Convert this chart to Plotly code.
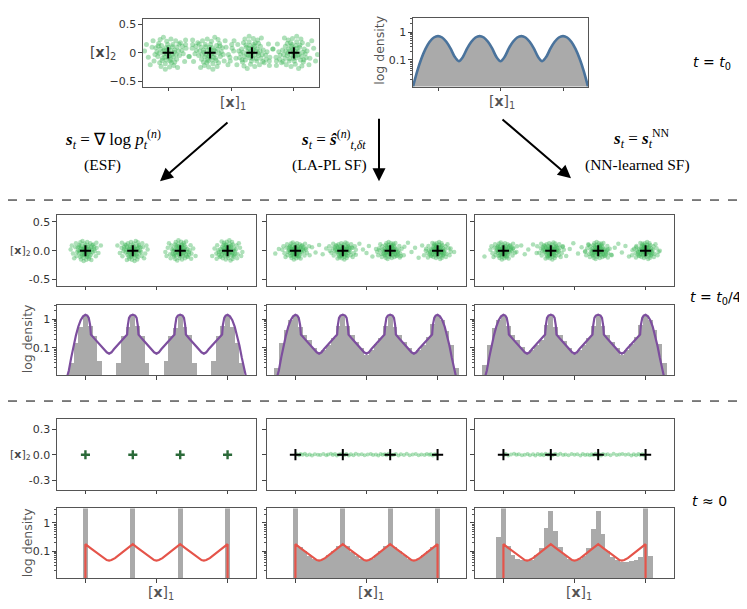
import plotly.graph_objects as go

# page body adds an 8px margin, so the figure is made 8px smaller and every
# reference pixel position is shifted by that offset.
OFF = 8
W, H = 747 - OFF, 609 - OFF
N = None

# ---------------- data ----------------
CENTERS_X = [-3.0, -1.0, 1.0, 3.0]
CENTERS_Y = [0.0, 0.0, 0.0, 0.0]
X_TICKS = [-3, 0, 3]
X_RANGE = [-4.2, 4.2]

# hand-read cloud shape (unit offsets) reused by every cluster
BLOB_DX = [0.12, -0.8, 1.1, -0.3, 0.5, -1.4, 0.9, -0.1, 0.3, -0.6,
           1.6, -1.0, 0.2, -0.4, 0.7, -1.7, 1.3, -0.2, 0.05, -0.9,
           0.6, -1.2, 1.9, -0.5, 0.4, -2.1, 1.0, -0.7, 0.0, 1.5,
           -1.5, 0.8, -0.3, 2.2, -0.05, -1.1, 0.25, 0.55, -0.45, -2.5,
           1.2, -0.85, 0.35, -1.3, 0.95, -0.15, 1.75, -0.65, 0.1, -1.9,
           2.6, -0.25, 0.65, -0.95, 0.45, -0.35, 1.45, -1.6, 0.15, 0.85,
           -0.55, 0.3, -1.05, 1.15, -0.2, 0.7, -2.3, 0.0, 1.85, -0.75]
BLOB_DY = [-0.35, 0.4, 0.2, -1.2, 0.9, -0.2, -0.7, 0.05, 1.5, -0.6,
           -0.1, 1.0, -0.9, 0.3, 0.3, 0.6, 1.1, -0.1, 0.6, -1.1,
           -1.4, 0.1, 0.5, 1.7, -0.2, -0.5, -1.6, 0.8, -0.5, 0.7,
           -0.9, 1.3, -1.8, -0.4, 0.9, -0.4, 0.25, -0.45, -0.15, 0.2,
           -0.3, 1.45, -1.1, 0.55, 0.6, 1.25, -0.95, -0.85, -0.05, -1.3,
           0.9, 0.55, 0.05, -0.05, 0.65, -0.5, 0.25, 1.3, -1.55, -0.2,
           0.2, -0.7, 0.75, 0.95, -0.8, -1.0, 0.9, 0.35, 1.4, -1.5]
MIRROR_X = [1, -1, 1, -1]
MIRROR_Y = [1, 1, -1, -1]

SPREAD_TOP = (0.45, 0.16)
SPREAD_MID_ESF = (0.25, 0.10)
SPREAD_MID_LAPL = (0.22, 0.085)
SPREAD_MID_NN = (0.22, 0.085)

LAPL_MID_BRIDGE_X = [-3.85, -3.7, -2.55, -2.4, -2.3, -2.15, -2.0, -1.85, -1.7, -1.55,
                     -0.6, -0.45, -0.3, -0.15, 0.0, 0.1, 0.25, 0.4, 0.55,
                     1.45, 1.6, 1.75, 1.9, 2.05, 2.2, 2.35, 2.5, 3.55, 3.7]
LAPL_MID_BRIDGE_Y = [-0.05, 0.03, 0.02, -0.08, 0.06, -0.03, 0.1, -0.06, 0.04, 0.0,
                     0.05, -0.07, 0.12, 0.02, -0.04, 0.08, -0.1, 0.03, 0.01,
                     -0.09, 0.07, 0.14, -0.02, 0.05, -0.12, 0.09, 0.0, 0.04, -0.02]
NN_MID_BRIDGE_X = [-3.8, -2.6, -2.45, -2.25, -2.1, -1.95, -1.75, -1.6,
                   -0.65, -0.5, -0.35, -0.2, -0.05, 0.15, 0.3, 0.45, 0.6,
                   1.4, 1.55, 1.7, 1.85, 2.0, 2.15, 2.3, 2.45, 2.6, 3.6]
NN_MID_BRIDGE_Y = [-0.1, 0.04, -0.02, 0.09, -0.06, 0.02, 0.11, -0.04,
                   0.0, 0.07, -0.09, 0.03, 0.13, -0.05, 0.06, -0.01, 0.1,
                   0.02, -0.07, 0.05, 0.12, -0.03, 0.08, -0.1, 0.01, 0.06, 0.0]

LAPL_BOT_X = [-2.95, -2.85, -2.78, -2.7, -2.6, -2.52, -2.4, -2.3, -2.18, -2.05,
              -1.95, -1.82, -1.7, -1.62, -1.5, -1.42, -1.33, -1.25, -1.15, -1.08,
              -0.92, -0.85, -0.75, -0.66, -0.55, -0.45, -0.33, -0.2, -0.08, 0.05,
              0.18, 0.28, 0.4, 0.5, 0.6, 0.68, 0.77, 0.85, 0.93, 1.07,
              1.15, 1.24, 1.35, 1.45, 1.58, 1.7, 1.82, 1.95, 2.08, 2.2,
              2.32, 2.45, 2.55, 2.65, 2.72, 2.8, 2.88, 2.95]
LAPL_BOT_Y = [0.004, -0.006, 0.008, -0.002, 0.01, -0.008, 0.003, -0.01, 0.006, 0.0,
              -0.004, 0.009, -0.007, 0.002, 0.011, -0.005, 0.007, -0.009, 0.001, 0.005,
              -0.003, 0.008, -0.011, 0.004, -0.006, 0.01, -0.001, 0.006, -0.008, 0.003,
              0.009, -0.004, 0.002, -0.01, 0.007, -0.002, 0.005, -0.007, 0.01, -0.005,
              0.0, 0.008, -0.009, 0.004, -0.003, 0.011, -0.006, 0.002, 0.007, -0.008,
              0.003, -0.004, 0.009, -0.001, 0.006, -0.01, 0.005, -0.002]
NN_BOT_X = [-2.97, -2.9, -2.8, -2.68, -2.55, -2.45, -2.35, -2.22, -2.1, -1.98,
            -1.88, -1.75, -1.65, -1.55, -1.45, -1.38, -1.3, -1.22, -1.12, -1.05,
            -0.95, -0.88, -0.8, -0.7, -0.6, -0.48, -0.38, -0.25, -0.12, 0.0,
            0.12, 0.25, 0.35, 0.45, 0.55, 0.65, 0.72, 0.8, 0.88, 0.96,
            1.05, 1.12, 1.2, 1.3, 1.4, 1.52, 1.65, 1.78, 1.9, 2.02,
            2.15, 2.28, 2.4, 2.5, 2.6, 2.7, 2.78, 2.86, 2.93]
NN_BOT_Y = [-0.005, 0.007, -0.009, 0.003, 0.01, -0.002, 0.006, -0.008, 0.0, 0.009,
            -0.006, 0.004, -0.01, 0.008, -0.003, 0.005, -0.007, 0.011, -0.001, 0.006,
            -0.009, 0.002, 0.008, -0.005, 0.01, -0.004, 0.003, -0.008, 0.007, -0.002,
            0.005, -0.01, 0.009, -0.003, 0.001, -0.007, 0.006, -0.004, 0.01, -0.006,
            0.002, -0.009, 0.008, -0.001, 0.004, -0.008, 0.011, -0.005, 0.003, 0.007,
            -0.002, 0.006, -0.009, 0.004, -0.006, 0.009, -0.003, 0.005, -0.007]

# densities
TOP_X = [-4.2, -4.0, -3.8, -3.6, -3.4, -3.2, -3.0, -2.8, -2.6, -2.4, -2.2, -2.0, -1.8, -1.6,
         -1.4, -1.2, -1.0, -0.8, -0.6, -0.4, -0.2, 0.0, 0.2, 0.4, 0.6, 0.8, 1.0, 1.2, 1.4,
         1.6, 1.8, 2.0, 2.2, 2.4, 2.6, 2.8, 3.0, 3.2, 3.4, 3.6, 3.8, 4.0, 4.2]
TOP_DENS = [0.011, 0.039, 0.11, 0.25, 0.45, 0.64, 0.72, 0.64, 0.45, 0.26, 0.13, 0.09,
            0.13, 0.26, 0.45, 0.64, 0.72, 0.64, 0.45, 0.26, 0.13, 0.09,
            0.13, 0.26, 0.45, 0.64, 0.72, 0.64, 0.45, 0.26, 0.13, 0.09,
            0.13, 0.26, 0.45, 0.64, 0.72, 0.64, 0.45, 0.25, 0.11, 0.039, 0.011]

PURPLE_X = [-3.8, -3.7, -3.6, -3.5, -3.4, -3.3, -3.2, -3.1, -3.0, -2.92, -2.86, -2.8, -2.77,
            -2.6, -2.4, -2.2, -2.1, -2.0, -1.9, -1.8, -1.6, -1.4, -1.24, -1.21, -1.16, -1.1,
            -1.0, -0.9, -0.84, -0.79, -0.76,
            -0.6, -0.4, -0.2, -0.1, 0.0, 0.1, 0.2, 0.4, 0.6, 0.76, 0.79, 0.84, 0.9, 1.0, 1.1,
            1.16, 1.21, 1.24,
            1.4, 1.6, 1.8, 1.9, 2.0, 2.1, 2.2, 2.4, 2.6, 2.77, 2.8, 2.86, 2.92, 3.0, 3.1, 3.2,
            3.3, 3.4, 3.5, 3.6, 3.7, 3.8]
PURPLE_Y = [0.008, 0.016, 0.045, 0.12, 0.27, 0.55, 0.92, 1.25, 1.42, 1.33, 1.1, 0.6, 0.29,
            0.2, 0.135, 0.088, 0.069, 0.062, 0.069, 0.088, 0.135, 0.2, 0.29, 0.6, 1.1, 1.33,
            1.42, 1.33, 1.1, 0.6, 0.29,
            0.2, 0.135, 0.088, 0.069, 0.062, 0.069, 0.088, 0.135, 0.2, 0.29, 0.6, 1.1, 1.33,
            1.42, 1.33, 1.1, 0.6, 0.29,
            0.2, 0.135, 0.088, 0.069, 0.062, 0.069, 0.088, 0.135, 0.2, 0.29, 0.6, 1.1, 1.33,
            1.42, 1.25, 0.92, 0.55, 0.27, 0.12, 0.045, 0.016, 0.008]

RED_X = [-3.0, -3.0, -2.8, -2.6, -2.4, -2.25, -2.1, -2.0, -1.9, -1.75, -1.6, -1.4, -1.2, -1.0,
         -0.8, -0.6, -0.4, -0.25, -0.1, 0.0, 0.1, 0.25, 0.4, 0.6, 0.8, 1.0,
         1.2, 1.4, 1.6, 1.75, 1.9, 2.0, 2.1, 2.25, 2.4, 2.6, 2.8, 3.0, 3.0]
RED_Y = [0.001, 0.175, 0.13, 0.096, 0.071, 0.056, 0.048, 0.046, 0.048, 0.056, 0.071, 0.096, 0.13, 0.175,
         0.13, 0.096, 0.071, 0.056, 0.048, 0.046, 0.048, 0.056, 0.071, 0.096, 0.13, 0.175,
         0.13, 0.096, 0.071, 0.056, 0.048, 0.046, 0.048, 0.056, 0.071, 0.096, 0.13, 0.175, 0.001]

BIN_CENTERS = [-4.0, -3.8, -3.6, -3.4, -3.2, -3.0, -2.8, -2.6, -2.4, -2.2,
               -2.0, -1.8, -1.6, -1.4, -1.2, -1.0, -0.8, -0.6, -0.4, -0.2,
               0.0, 0.2, 0.4, 0.6, 0.8, 1.0, 1.2, 1.4, 1.6, 1.8,
               2.0, 2.2, 2.4, 2.6, 2.8, 3.0, 3.2, 3.4, 3.6, 3.8, 4.0]
BIN_WIDTH = 0.2

MID_ESF_HIST = [N, N, 0.03, 0.15, 0.55, 1.3, 0.6, 0.27, 0.035, N,
                N, N, 0.03, 0.27, 0.55, 1.35, 0.6, 0.27, 0.03, N,
                N, N, 0.035, 0.27, 0.5, 1.35, 0.55, 0.28, 0.03, N,
                N, N, 0.035, 0.27, 0.6, 1.3, 0.55, 0.15, 0.03, N, N]
MID_LAPL_HIST = [N, 0.02, 0.15, 0.45, 1.0, 1.35, 0.55, 0.3, 0.19, 0.1,
                 0.065, 0.09, 0.13, 0.22, 0.6, 1.35, 0.6, 0.3, 0.17, 0.1,
                 0.06, 0.09, 0.14, 0.22, 0.6, 1.35, 0.55, 0.28, 0.17, 0.1,
                 0.065, 0.09, 0.13, 0.25, 0.7, 1.35, 1.0, 0.4, 0.13, 0.02, N]
MID_NN_HIST = [N, 0.025, 0.13, 0.5, 1.0, 1.35, 0.6, 0.3, 0.2, 0.11,
               0.07, 0.085, 0.13, 0.2, 0.65, 1.35, 0.55, 0.3, 0.18, 0.1,
               0.065, 0.085, 0.13, 0.22, 0.6, 1.35, 0.6, 0.3, 0.17, 0.1,
               0.06, 0.09, 0.14, 0.25, 0.65, 1.35, 0.95, 0.45, 0.14, 0.03, N]
BOT_ESF_HIST = [N, N, N, N, N, 20, N, N, N, N,
                N, N, N, N, N, 20, N, N, N, N,
                N, N, N, N, N, 20, N, N, N, N,
                N, N, N, N, N, 20, N, N, N, N, N]
BOT_LAPL_HIST = [N, N, N, N, N, 20, 0.13, 0.095, 0.065, 0.052,
                 0.047, 0.05, 0.07, 0.1, 0.14, 20, 0.14, 0.09, 0.065, 0.05,
                 0.043, 0.052, 0.072, 0.1, 0.15, 20, 0.13, 0.095, 0.07, 0.05,
                 0.045, 0.05, 0.07, 0.1, 0.13, 20, N, N, N, N, N]
BOT_NN_HIST = [N, N, N, N, 0.3, 20, 0.14, 0.07, 0.05, 0.045,
               0.042, 0.046, 0.07, 0.12, 0.65, 2.6, 0.5, 0.13, 0.07, 0.05,
               0.043, 0.05, 0.065, 0.12, 0.6, 2.6, 0.38, 0.1, 0.06, 0.045,
               0.038, 0.04, 0.042, 0.048, 0.058, 20, 0.062, N, N, N, N]

LOG_TICKS = [0.1, 1]
LOG_TICKTEXT = ['0.1', '1']
LOG_MINOR = [0.02, 0.03, 0.04, 0.05, 0.06, 0.07, 0.08, 0.09,
             0.2, 0.3, 0.4, 0.5, 0.6, 0.7, 0.8, 0.9, 2, 3]

# ---------------- styling / layout ----------------
GREEN = 'rgba(62,182,88,0.42)'
GRAY = '#aaaaaa'
PURPLE = '#7d4e9e'
RED = '#e5544a'
BLUE = '#4a739c'
TXT = '#333333'

fig = go.Figure()
layout = dict(width=W, height=H, margin=dict(l=0, r=0, t=0, b=0),
              paper_bgcolor='white', plot_bgcolor='white', showlegend=False)

AX = dict(showgrid=False, zeroline=False, showline=True, mirror=True,
          linecolor='#555555', linewidth=1.2, ticks='outside', ticklen=3.5,
          tickwidth=1, tickcolor='#444444',
          tickfont=dict(family='DejaVu Sans', size=11, color=TXT))


def fx(x):
    return (x - OFF) / W


def fy(y):
    return 1 - (y - OFF) / H


def names(n):
    s = '' if n == 1 else str(n)
    return 'xaxis' + s, 'yaxis' + s, 'x' + s, 'y' + s


def setup(n, box, yrange, ytype='linear', yticks=None, ytext=None, show_y=True, minor=False):
    l, t, r, b = box
    xa, ya, xr, yr = names(n)
    layout[xa] = dict(AX, domain=[fx(l), fx(r)], anchor=yr, range=X_RANGE,
                      tickmode='array', tickvals=X_TICKS, showticklabels=False)
    yd = dict(AX, domain=[fy(b), fy(t)], anchor=xr, type=ytype, range=yrange,
              tickmode='array', tickvals=yticks, ticktext=ytext, showticklabels=show_y)
    if minor:
        yd['minor'] = dict(tickmode='array', tickvals=LOG_MINOR, ticks='outside',
                           ticklen=2, tickwidth=0.8, tickcolor='#555555')
    layout[ya] = yd
    return xr, yr


def cloud(spread):
    xs, ys = [], []
    for k, (cx, cy) in enumerate(zip(CENTERS_X, CENTERS_Y)):
        for dx, dy in zip(BLOB_DX, BLOB_DY):
            xs.append(cx + spread[0] * dx * MIRROR_X[k])
            ys.append(cy + spread[1] * dy * MIRROR_Y[k])
    return xs, ys


def add_points(xr, yr, xs, ys, size):
    fig.add_trace(go.Scatter(x=xs, y=ys, xaxis=xr, yaxis=yr, mode='markers',
                             marker=dict(size=size, color=GREEN, line=dict(width=0)),
                             hoverinfo='skip'))


def add_crosses(xr, yr, color='black', size=8, width=2):
    fig.add_trace(go.Scatter(x=CENTERS_X, y=CENTERS_Y, xaxis=xr, yaxis=yr, mode='markers',
                             marker=dict(symbol='cross-thin', size=size,
                                         line=dict(width=width, color=color)),
                             hoverinfo='skip'))


def add_hist(xr, yr, vals):
    fig.add_trace(go.Bar(x=BIN_CENTERS, y=vals, width=BIN_WIDTH, xaxis=xr, yaxis=yr,
                         marker=dict(color=GRAY, line=dict(width=0)), hoverinfo='skip'))


def add_curve(xr, yr, xs, ys, color, width=2.2, shape='linear'):
    fig.add_trace(go.Scatter(x=xs, y=ys, xaxis=xr, yaxis=yr, mode='lines',
                             line=dict(color=color, width=width, shape=shape),
                             hoverinfo='skip'))


LOG_RANGE = [-1.96, 0.51]
COLS = [(57, 256), (267, 466), (475, 674)]
MID_SC = (215, 286)
MID_DN = (305, 376)
BOT_SC = (420, 491)
BOT_DN = (510, 580)

# --- top scatter ---
xr, yr = setup(1, (143, 18, 319, 86), [-0.59, 0.59], yticks=[0.5, 0, -0.5],
               ytext=['0.5', '0', '\u22120.5'])
tx, ty = cloud(SPREAD_TOP)
add_points(xr, yr, tx, ty, 5)
add_crosses(xr, yr)

# --- top density ---
xr, yr = setup(2, (413, 17, 588, 86), LOG_RANGE, 'log', LOG_TICKS, LOG_TICKTEXT, True, True)
fig.add_trace(go.Scatter(x=TOP_X, y=[1e-3 for _ in TOP_X], xaxis=xr, yaxis=yr, mode='lines',
                         line=dict(width=0, color=GRAY), hoverinfo='skip'))
fig.add_trace(go.Scatter(x=TOP_X, y=TOP_DENS, xaxis=xr, yaxis=yr, mode='lines',
                         fill='tonexty', fillcolor=GRAY,
                         line=dict(color=BLUE, width=2.6, shape='spline', smoothing=0.8),
                         hoverinfo='skip'))

# --- middle row ---
mid_clouds = [
    (cloud(SPREAD_MID_ESF), None, None),
    (cloud(SPREAD_MID_LAPL), LAPL_MID_BRIDGE_X, LAPL_MID_BRIDGE_Y),
    (cloud(SPREAD_MID_NN), NN_MID_BRIDGE_X, NN_MID_BRIDGE_Y),
]
mid_hists = [MID_ESF_HIST, MID_LAPL_HIST, MID_NN_HIST]
for i, (l, r) in enumerate(COLS):
    xr, yr = setup(3 + i, (l, MID_SC[0], r, MID_SC[1]), [-0.605, 0.62],
                   yticks=[0.5, 0.0, -0.5], ytext=['0.5', '0.0', '-0.5'], show_y=(i == 0))
    (cx, cy), bx, by = mid_clouds[i]
    if bx:
        add_points(xr, yr, bx, by, 4.5)
    add_points(xr, yr, cx, cy, 4.5)
    add_crosses(xr, yr)

    xr, yr = setup(6 + i, (l, MID_DN[0], r, MID_DN[1]), LOG_RANGE, 'log',
                   LOG_TICKS, LOG_TICKTEXT, i == 0, True)
    add_hist(xr, yr, mid_hists[i])
    add_curve(xr, yr, PURPLE_X, PURPLE_Y, PURPLE)

# --- bottom row ---
bot_hists = [BOT_ESF_HIST, BOT_LAPL_HIST, BOT_NN_HIST]
bot_pts = [(None, None), (LAPL_BOT_X, LAPL_BOT_Y), (NN_BOT_X, NN_BOT_Y)]
for i, (l, r) in enumerate(COLS):
    xr, yr = setup(9 + i, (l, BOT_SC[0], r, BOT_SC[1]), [-0.41, 0.42],
                   yticks=[0.3, 0.0, -0.3], ytext=['0.3', '0.0', '-0.3'], show_y=(i == 0))
    px_, py_ = bot_pts[i]
    if px_:
        add_points(xr, yr, px_, py_, 4)
        add_crosses(xr, yr)
    else:
        add_crosses(xr, yr, color='#2b6a39', size=6.5, width=2.4)

    xr, yr = setup(12 + i, (l, BOT_DN[0], r, BOT_DN[1]), LOG_RANGE, 'log',
                   LOG_TICKS, LOG_TICKTEXT, i == 0, True)
    add_hist(xr, yr, bot_hists[i])
    add_curve(xr, yr, RED_X, RED_Y, RED)

layout['bargap'] = 0

# ---------------- annotations ----------------
ann = []


def text(x, y, s, size=13, color=TXT, family='DejaVu Sans', angle=0, xanchor='center'):
    ann.append(dict(x=fx(x), y=fy(y), xref='paper', yref='paper', text=s, showarrow=False,
                    textangle=angle, xanchor=xanchor, yanchor='middle',
                    font=dict(size=size, color=color, family=family)))


X1 = '[<b>x</b>]<sub>1</sub>'
X2 = '[<b>x</b>]<sub>2</sub>'
text(103, 52, X2, 14, '#444')
text(33, 251, X2, 11, '#444', xanchor='right')
text(33, 456, X2, 11, '#444', xanchor='right')
text(233, 102, X1, 14, '#555')
text(502, 101, X1, 14, '#555')
for (l, r) in COLS:
    text((l + r) / 2 + 4, 595, X1, 14, '#555')
text(380, 50, 'log density', 12.5, '#555', angle=-90)
text(27, 340, 'log density', 12.5, '#555', angle=-90)
text(27, 545, 'log density', 12.5, '#555', angle=-90)

text(712, 62, '<i>t</i> = <i>t</i><sub>0</sub>', 14, 'black')
text(716, 298, '<i>t</i> = <i>t</i><sub>0</sub>/4', 14, 'black')
text(709, 502, '<i>t</i> \u2248 0', 14, 'black')

SERIF = 'Liberation Serif'
text(113, 139, '<b><i>s</i></b><sub><i>t</i></sub> = \u2207 log <i>p</i><sub><i>t</i></sub><sup>(<i>n</i>)</sup>', 17, 'black', SERIF)
text(102, 165, '(ESF)', 15.5, 'black', SERIF)
text(333, 139, '<b><i>s</i></b><sub><i>t</i></sub> = <b><i>\u015d</i></b><sup>(<i>n</i>)</sup><sub><i>t</i>,<i>\u03b4t</i></sub>', 17, 'black', SERIF)
text(329, 165, '(LA-PL SF)', 15.5, 'black', SERIF)
text(641, 138, '<b><i>s</i></b><sub><i>t</i></sub> = <b><i>s</i></b><sub><i>t</i></sub><sup>NN</sup>', 17, 'black', SERIF)
text(637, 165, '(NN-learned SF)', 15.5, 'black', SERIF)


def arrow(x0, y0, x1, y1):
    ann.append(dict(x=fx(x1), y=fy(y1), xref='paper', yref='paper', ax=x0 - x1, ay=y0 - y1,
                    axref='pixel', ayref='pixel', showarrow=True, text='',
                    arrowhead=2, arrowsize=1.3, arrowwidth=2, arrowcolor='black'))


arrow(229, 121, 160, 181)
arrow(379, 117, 379, 181)
arrow(501, 118, 571, 178)

layout['annotations'] = ann
layout['shapes'] = [
    dict(type='line', xref='paper', yref='paper', x0=fx(8), x1=fx(742),
         y0=fy(200), y1=fy(200), line=dict(color='black', width=1, dash='dash')),
    dict(type='line', xref='paper', yref='paper', x0=fx(8), x1=fx(742),
         y0=fy(402), y1=fy(402), line=dict(color='black', width=1, dash='dash')),
]

fig.update_layout(**layout)
fig.write_html('out.html')
